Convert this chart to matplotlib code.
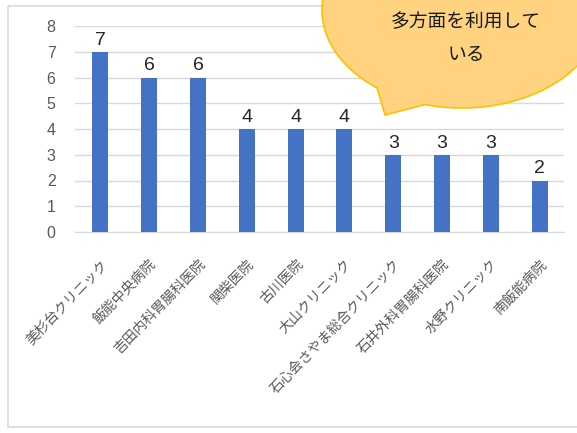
import numpy as np
import matplotlib
matplotlib.use("Agg")
import matplotlib.pyplot as plt
from matplotlib.patches import Polygon, Rectangle

plt.rcParams['font.family'] = ['Liberation Sans', 'Noto Sans CJK JP', 'DejaVu Sans']

clinics = ['美杉台クリニック', '飯能中央病院', '吉田内科胃腸科医院', '関柴医院', '古川医院',
           '大山クリニック', '石心会さやま総合クリニック', '石井外科胃腸科医院', '水野クリニック', '南飯能病院']
counts = [7, 6, 6, 4, 4, 4, 3, 3, 3, 2]
note = '多方面を利用して\nいる'

W, H = 577, 433
fig = plt.figure(figsize=(W / 100, H / 100), dpi=100)

# outer chart frame
bg = fig.add_axes([0, 0, 1, 1])
bg.set_xlim(0, W)
bg.set_ylim(H, 0)
bg.axis('off')
bg.add_patch(Rectangle((8, 6), 580, 421, fill=False, edgecolor='#D9D9D9', lw=1.2))

ax = fig.add_axes([75 / W, 1 - 232 / H, (564 - 75) / W, (232 - 26) / H])
x = np.arange(len(clinics))
ax.bar(x, counts, width=0.33, color='#4472C4', zorder=3)
for xi, v in zip(x, counts):
    ax.text(xi, v + 0.12, str(v), ha='center', va='bottom', fontsize=14, color='#262626')

ax.set_ylim(0, 8)
ax.set_xlim(-0.52, len(clinics) - 0.5)
ax.set_yticks(range(0, 9))
ax.yaxis.grid(True, color='#D9D9D9', lw=1)
ax.set_axisbelow(True)
for s in ['top', 'right', 'left']:
    ax.spines[s].set_visible(False)
ax.spines['bottom'].set_color('#D9D9D9')
ax.tick_params(axis='y', length=0, labelsize=11.5, labelcolor='#595959', pad=14)
ax.tick_params(axis='x', length=0, pad=18)
ax.set_xticks(x)
ax.set_xticklabels(clinics, rotation=46, ha='right', rotation_mode='anchor',
                   fontsize=10, color='#595959', family=['Noto Sans CJK JP'])

# speech bubble
over = fig.add_axes([0, 0, 1, 1])
over.set_xlim(0, W)
over.set_ylim(H, 0)
over.axis('off')
cx, cy, a, b = 462, 10, 140, 98
t1 = np.arccos((377 - cx) / a)
t2 = np.arccos((425 - cx) / a)
t = np.linspace(t1, 2 * np.pi + t2, 200)
pts = np.column_stack([cx + a * np.cos(t), cy + b * np.sin(t)])
pts = np.vstack([pts, [385, 115]])
over.add_patch(Polygon(pts, closed=True, facecolor='#FFD37F', edgecolor='#FFC000', lw=1.2, clip_on=False))
over.text(466, 38, note, ha='center', va='center', fontsize=13.5, color='#1a1a1a',
          family=['Noto Sans CJK JP'], linespacing=1.75)

fig.savefig('out.png', dpi=100)
